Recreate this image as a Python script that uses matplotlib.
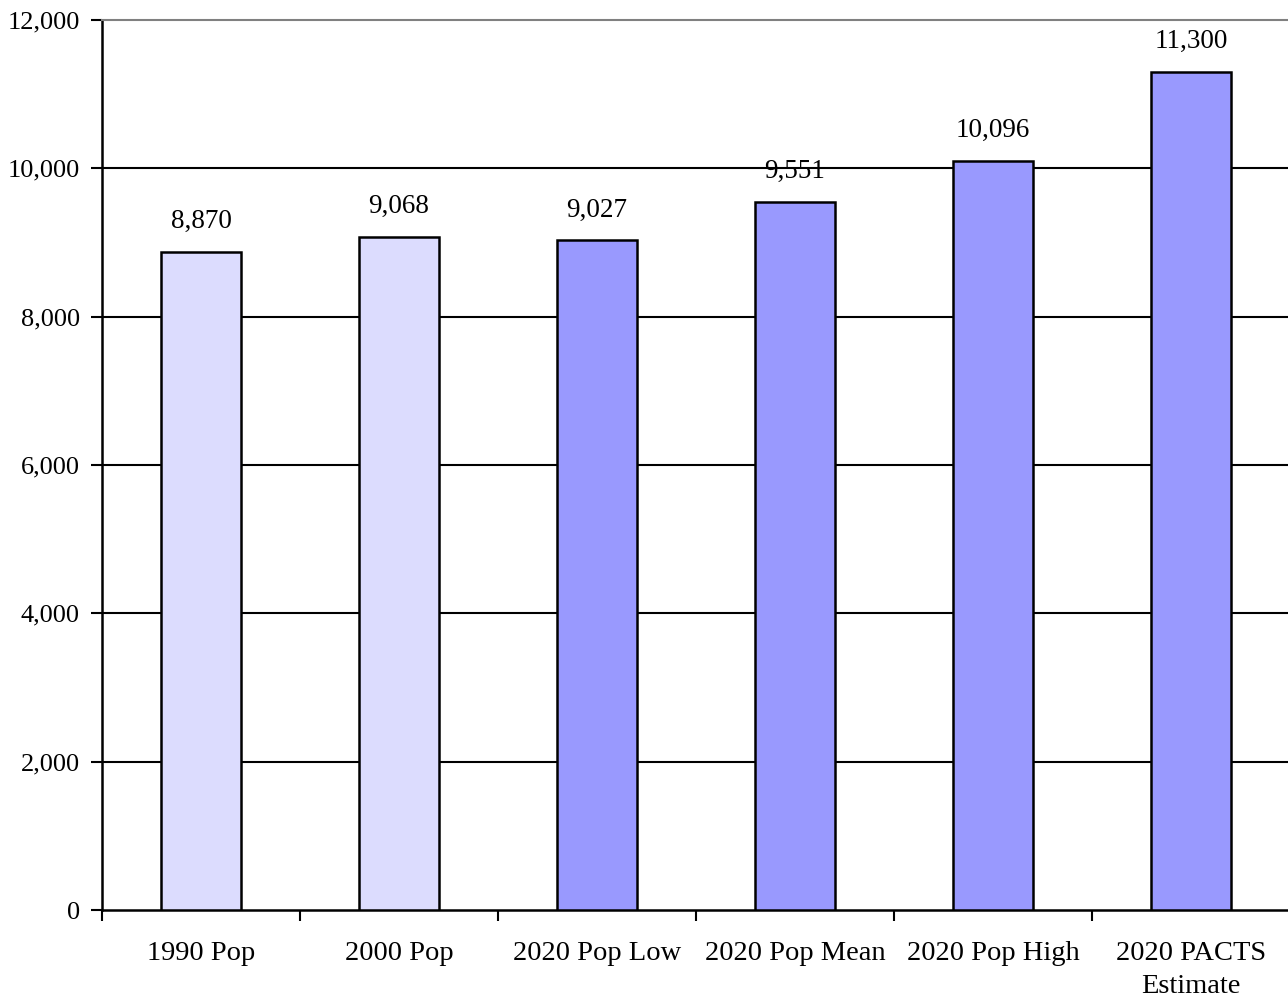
import matplotlib.pyplot as plt
import numpy as np

# Population figures
categories = ['1990 Pop', '2000 Pop', '2020 Pop Low', '2020 Pop Mean',
              '2020 Pop High', '2020 PACTS\nEstimate']
population = [8870, 9068, 9027, 9551, 10096, 11300]
bar_colors = ['#dcdcfe', '#dcdcfe', '#9999fe', '#9999fe', '#9999fe', '#9999fe']
y_ticks = [0, 2000, 4000, 6000, 8000, 10000, 12000]

plt.rcParams['font.family'] = ['Liberation Serif', 'DejaVu Serif']

fig = plt.figure(figsize=(12.88, 10.05), dpi=100)
ax = fig.add_axes([102 / 1288, 95 / 1005, 1188 / 1288, 890 / 1005])

x = np.arange(len(categories))
ax.bar(x, population, width=0.4, color=bar_colors, edgecolor='black',
       linewidth=1.8, zorder=3)

for xi, val in zip(x, population):
    ax.annotate(f'{val:,}', (xi, val), xytext=(0, 13), textcoords='offset points',
                ha='center', va='bottom', fontsize=19.5, zorder=4)

ax.set_xlim(-0.5, len(categories) - 0.5)
ax.set_ylim(0, 12000)
ax.set_yticks(y_ticks)
ax.set_yticklabels([f'{t:,}' for t in y_ticks], fontsize=19)
ax.set_xticks(x)
ax.set_xticklabels(categories, fontsize=20.5, linespacing=1.45)
ax.set_xticks(np.arange(len(categories) + 1) - 0.5, minor=True)

ax.tick_params(axis='x', which='major', length=0, pad=22)
ax.tick_params(axis='x', which='minor', length=8, width=1.5, direction='out')
ax.tick_params(axis='y', length=8, width=1.5, direction='out', pad=8)

for yt in y_ticks[1:-1]:
    ax.axhline(yt, color='black', linewidth=1.5, zorder=1)

ax.spines['right'].set_visible(False)
ax.spines['top'].set_color('#808080')
ax.spines['top'].set_linewidth(1.5)
ax.spines['left'].set_linewidth(1.8)
ax.spines['bottom'].set_linewidth(1.8)

plt.savefig('out.png', dpi=100)
